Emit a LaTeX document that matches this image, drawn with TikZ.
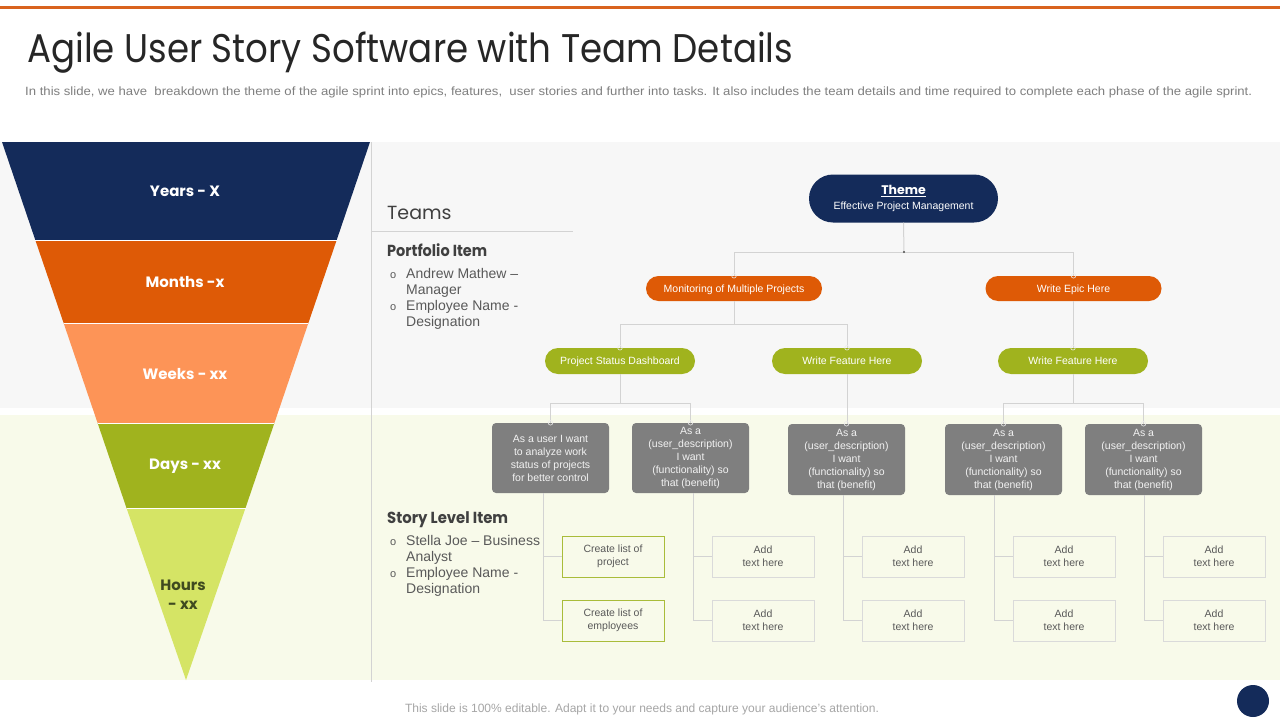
\documentclass[tikz,border=0pt]{standalone}
\usepackage{fontspec}
\usepackage{graphicx}
\setmainfont{Liberation Sans}
\newfontfamily\gothic{Poppins}
\usetikzlibrary{calc}
\definecolor{navy}{HTML}{142B5A}
\definecolor{orng}{HTML}{DE5A06}
\definecolor{lorng}{HTML}{FD9457}
\definecolor{olive}{HTML}{A0B31E}
\definecolor{lolive}{HTML}{D5E465}
\definecolor{topline}{HTML}{D9631E}
\definecolor{bggray}{HTML}{F7F7F7}
\definecolor{bggreen}{HTML}{F8FAEA}
\definecolor{linec}{HTML}{D3D3D3}
\definecolor{gbox}{HTML}{7F7F7F}
\definecolor{leafgreen}{HTML}{A9BC3A}
\definecolor{leafgray}{HTML}{DADADA}
\definecolor{txtdark}{HTML}{404040}
\definecolor{txtmid}{HTML}{595959}
\definecolor{hourstxt}{HTML}{3F4A1F}
\begin{document}
\begin{tikzpicture}[x=1pt,y=-1pt,
  conn/.style={draw=linec,line width=1pt},
  pillO/.style={fill=orng,text=white,rounded corners=12.5pt,minimum width=176pt,minimum height=25pt,inner sep=0pt,text height=9pt,text depth=1.5pt,font=\fontsize{10.5}{12}\selectfont},
  pillG/.style={pillO,fill=olive,rounded corners=13pt,minimum width=150pt,minimum height=26pt},
  story/.style={fill=gbox,text=white!95!black,rounded corners=4pt,minimum width=117pt,minimum height=70pt,inner sep=0pt,align=center,font=\fontsize{10.5}{13}\selectfont},
  leafG/.style={draw=leafgreen,line width=0.9pt,fill=bggreen,text=txtmid,minimum width=102pt,minimum height=41pt,inner sep=0pt,align=center,font=\fontsize{10.5}{13}\selectfont},
  leafN/.style={leafG,draw=leafgray},
  pin/.style={draw=white!85!gray,line width=0.6pt},
  funlab/.style={text=white,font=\gothic\bfseries\fontsize{15}{17}\selectfont},
  bul/.style={anchor=base west,inner sep=0pt,text=txtmid,font=\fontsize{14}{16}\selectfont},
  head/.style={anchor=base west,inner sep=0pt,text=txtdark}
]
\useasboundingbox (0,0) rectangle (1280,720);
\fill[white] (0,0) rectangle (1280,720);
% top line
\fill[topline] (0,6) rectangle (1280,9);
% title and subtitle
\node[anchor=base west,inner sep=0pt,text=black!85] (title) at (27,62)
  {\resizebox{766pt}{\height}{\gothic\fontsize{40}{44}\selectfont Agile User Story Software with Team Details}};
\node[anchor=base west,inner sep=0pt,text=gbox] (sub) at (25,95)
  {\resizebox{1227pt}{\height}{\fontsize{12}{14}\selectfont In this slide, we have\ \ breakdown the theme of the agile sprint into epics, features,\ \ user stories and further into tasks. It also includes the team details and time required to complete each phase of the agile sprint.}};
% backgrounds
\fill[bggray] (0,142) rectangle (1280,408);
\fill[bggreen] (0,415) rectangle (1280,680);
\draw[linec,line width=0.8pt] (371,142) -- (371,682);
\draw[linec,line width=0.8pt] (372,231) -- (573,231);
% funnel
\fill[navy] (2,142) -- (370,142) -- (336.7,240) -- (35.3,240) -- cycle;
\fill[orng] (35.3,240) -- (336.7,240) -- (308.4,323) -- (63.6,323) -- cycle;
\fill[lorng] (63.6,323) -- (308.4,323) -- (274.4,423) -- (97.6,423) -- cycle;
\fill[olive] (97.6,423) -- (274.4,423) -- (245.5,508) -- (126.5,508) -- cycle;
\fill[lolive] (126.5,508) -- (245.5,508) -- (186,680) -- cycle;
\draw[white,line width=0.8pt] (35.3,240) -- (336.7,240) (63.6,323) -- (308.4,323) (97.6,423) -- (274.4,423) (126.5,508) -- (245.5,508);
\node[funlab] (years) at (185,191) {Years - X};
\node[funlab] (months) at (185,282) {Months -x};
\node[funlab] (weeks) at (185,374) {Weeks - xx};
\node[funlab] (days) at (185,466) {Days - xx};
\node[funlab,text=hourstxt,align=center,font=\gothic\bfseries\fontsize{15}{19}\selectfont] (hours) at (183,595) {Hours\\ - xx};
% left texts
\node[head] (teams) at (387,219) {\gothic\fontsize{19}{22}\selectfont Teams};
\node[head] (port) at (387,256) {\resizebox{100pt}{\height}{\gothic\bfseries\fontsize{16}{18}\selectfont Portfolio Item}};
\node[bul] (pb1) at (390,278) {\fontsize{11}{12}\selectfont o};
\node[bul] (p1a) at (406,278) {Andrew Mathew --};
\node[bul] (p1b) at (406,294) {Manager};
\node[bul] (pb2) at (390,310) {\fontsize{11}{12}\selectfont o};
\node[bul] (p2a) at (406,310) {Employee Name -};
\node[bul] (p2b) at (406,326) {Designation};
\node[head] (story) at (387,523) {\resizebox{121pt}{\height}{\gothic\bfseries\fontsize{16}{18}\selectfont Story Level Item}};
\node[bul] (sb1) at (390,545) {\fontsize{11}{12}\selectfont o};
\node[bul] (s1a) at (406,545) {Stella Joe -- Business};
\node[bul] (s1b) at (406,561) {Analyst};
\node[bul] (sb2) at (390,577) {\fontsize{11}{12}\selectfont o};
\node[bul] (s2a) at (406,577) {Employee Name -};
\node[bul] (s2b) at (406,593) {Designation};
% tree nodes
\node[fill=navy,text=white,rounded corners=24pt,minimum width=189pt,minimum height=48pt,inner sep=0pt,align=center] (theme) at (903.5,198.5)
  {{\gothic\bfseries\fontsize{12.5}{14}\selectfont\underline{Theme}}\\[3pt]{\fontsize{10.5}{13}\selectfont Effective Project Management}};
\node[pillO] (mon) at (734,288.5) {Monitoring of Multiple Projects};
\node[pillO] (epic) at (1073.5,288.5) {Write Epic Here};
\node[pillG] (psd) at (620,361) {Project Status Dashboard};
\node[pillG] (wf1) at (847,361) {Write Feature Here};
\node[pillG] (wf2) at (1073,361) {Write Feature Here};
\node[story] (g1) at (550.5,458) {As a user I want\\to analyze work\\status of projects\\for better control};
\node[story] (g2) at (690.5,458) {As a\\(user\_description)\\I want\\(functionality) so\\that (benefit)};
\node[story,minimum height=71pt] (g3) at (846.5,459.5) {As a\\(user\_description)\\I want\\(functionality) so\\that (benefit)};
\node[story,minimum height=71pt] (g4) at (1003.5,459.5) {As a\\(user\_description)\\I want\\(functionality) so\\that (benefit)};
\node[story,minimum height=71pt] (g5) at (1143.5,459.5) {As a\\(user\_description)\\I want\\(functionality) so\\that (benefit)};
% leaves
\node[leafG] (l11) at (613,556.5) {Create list of\\project};
\node[leafG] (l12) at (613,620.5) {Create list of\\employees};
\node[leafN] (l21) at (763,556.5) {Add\\text here};
\node[leafN] (l22) at (763,620.5) {Add\\text here};
\node[leafN] (l31) at (913,556.5) {Add\\text here};
\node[leafN] (l32) at (913,620.5) {Add\\text here};
\node[leafN] (l41) at (1064,556.5) {Add\\text here};
\node[leafN] (l42) at (1064,620.5) {Add\\text here};
\node[leafN] (l51) at (1214,556.5) {Add\\text here};
\node[leafN] (l52) at (1214,620.5) {Add\\text here};
% connectors
\coordinate (j1) at (904,252);
\coordinate (j2) at (734,324);
\coordinate (j3) at (620,403);
\coordinate (j4) at (1073,403);
\draw[conn] (theme.south) -- (j1);
\draw[conn] (j1) -| (mon.north);
\draw[conn] (j1) -| (epic.north);
\draw[conn] (mon.south) -- (j2);
\draw[conn] (j2) -| (psd.north);
\draw[conn] (j2) -| (wf1.north);
\draw[conn] (epic.south) -- (epic.south |- wf2.north);
\draw[conn] (psd.south) -- (j3);
\draw[conn] (j3) -| (g1.north);
\draw[conn] (j3) -| (g2.north);
\draw[conn] (wf1.south) -- (wf1.south |- g3.north);
\draw[conn] (wf2.south) -- (j4);
\draw[conn] (j4) -| (g4.north);
\draw[conn] (j4) -| (g5.north);
\foreach \g/\a/\b in {g1/l11/l12,g2/l21/l22,g3/l31/l32,g4/l41/l42,g5/l51/l52}{
  \draw[conn] ($(\a.west |- \g.south)+(-18,0)$) |- (\a.west);
  \draw[conn] ($(\b.west |- \g.south)+(-18,0)$) |- (\b.west);
}
\fill[black!70] (j1) circle (1.2pt);
\foreach \n in {mon,epic,psd,wf1,wf2,g1,g2,g3,g4,g5}{
  \draw[pin] (\n.north) circle (2.3pt);
}
% footer
\node[anchor=base,inner sep=0pt,text=black!35] (foot) at (642,712)
  {\resizebox{474pt}{\height}{\fontsize{12}{14}\selectfont This slide is 100\% editable. Adapt it to your needs and capture your audience's attention.}};
\fill[navy] (1253,701) circle (16);
\end{tikzpicture}
\end{document}
